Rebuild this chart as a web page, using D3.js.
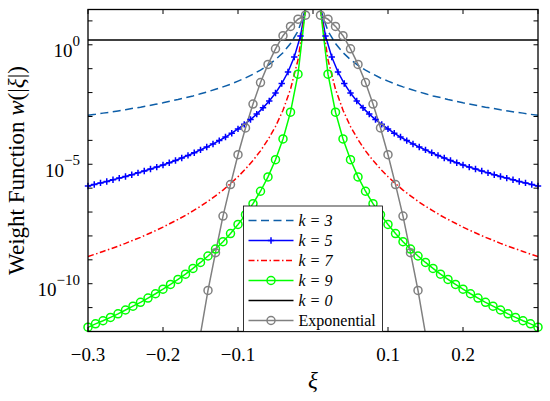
<!DOCTYPE html>
<html>
<head>
<meta charset="utf-8">
<script src="https://cdn.jsdelivr.net/npm/d3@7/dist/d3.min.js"></script>
<style>
body { margin: 0; background: #fff; }
svg { display: block; font-family: 'Liberation Serif', 'Times New Roman', serif; }
</style>
</head>
<body>
<svg id="chart" width="550" height="401"></svg>
<script>
var width = 550;
var height = 401;
var margin = { top: 9.5, right: 12, bottom: 69.5, left: 88 };

// |xi| grid (mirrored to negative side)
var xiGrid = [0.01, 0.02, 0.03, 0.04, 0.05, 0.06, 0.07, 0.08, 0.09, 0.10,
	0.11, 0.12, 0.13, 0.14, 0.15, 0.16, 0.17, 0.18, 0.19, 0.20,
	0.21, 0.22, 0.23, 0.24, 0.25, 0.26, 0.27, 0.28, 0.29, 0.30];
var xiGridK5 = [0.00833, 0.01667, 0.025, 0.03333, 0.04167, 0.05, 0.05833, 0.06667, 0.075, 0.08333,
	0.09167, 0.1, 0.10833, 0.11667, 0.125, 0.13333, 0.14167, 0.15, 0.15833, 0.16667,
	0.175, 0.18333, 0.19167, 0.2, 0.20833, 0.21667, 0.225, 0.23333, 0.24167, 0.25,
	0.25833, 0.26667, 0.275, 0.28333, 0.29167, 0.3];

// log10 of w(|xi|)
var logK3 = [1.48, 0.57, 0.05, -0.33, -0.62, -0.86, -1.06, -1.23, -1.39, -1.52,
	-1.65, -1.76, -1.86, -1.96, -2.05, -2.14, -2.21, -2.29, -2.36, -2.43,
	-2.49, -2.55, -2.61, -2.66, -2.72, -2.77, -2.82, -2.86, -2.91, -2.95];
var logK5 = [1.87, 0.37, -0.51, -1.14, -1.62, -2.02, -2.35, -2.64, -2.90, -3.13,
	-3.33, -3.52, -3.70, -3.86, -4.01, -4.15, -4.28, -4.40, -4.52, -4.63,
	-4.74, -4.84, -4.94, -5.03, -5.12, -5.20, -5.28, -5.36, -5.44, -5.51,
	-5.58, -5.65, -5.72, -5.78, -5.85, -5.91];
var logK7 = [1.48, -0.63, -1.86, -2.74, -3.42, -3.97, -4.44, -4.84, -5.20, -5.52,
	-5.81, -6.08, -6.32, -6.55, -6.76, -6.95, -7.14, -7.31, -7.47, -7.63,
	-7.78, -7.92, -8.06, -8.18, -8.31, -8.43, -8.54, -8.65, -8.76, -8.86];
var logK9 = [1.48, -1.23, -2.82, -3.94, -4.81, -5.53, -6.13, -6.65, -7.11, -7.52,
	-7.90, -8.24, -8.55, -8.84, -9.11, -9.36, -9.60, -9.82, -10.03, -10.23,
	-10.42, -10.60, -10.78, -10.94, -11.10, -11.26, -11.41, -11.55, -11.68, -11.82];
var logExp = [1.24, 1.07, 0.77, 0.38, -0.17, -0.82, -1.58, -2.48, -3.48, -4.60,
	-5.85, -7.17, -8.70, -10.28, -12.1, -14.0];
var k0Value = 1.6;

var xTicks = [-0.3, -0.2, -0.1, 0, 0.1, 0.2];
var xTickLabels = ['\u22120.3', '\u22120.2', '\u22120.1', '', '0.1', '0.2'];
var yTickExps = [1, 0, -1, -2, -3, -4, -5, -6, -7, -8, -9, -10, -11, -12];
var yLabelExps = [0, -5, -10];

var legendNames = ['k = 3', 'k = 5', 'k = 7', 'k = 9', 'k = 0', 'Exponential'];

var series = [
	{ grid: xiGrid, logs: logK3, color: '#0d5ea8', dash: '8,4.5', marker: null },
	{ grid: xiGridK5, logs: logK5, color: '#0000ff', dash: null, marker: 'plus' },
	{ grid: xiGrid, logs: logK7, color: '#ff0000', dash: '6,2.5,1.5,2.5', marker: null },
	{ grid: xiGrid, logs: logK9, color: '#00ff00', dash: null, marker: 'circle' },
	{ grid: null, logs: null, color: '#000000', dash: null, marker: null },
	{ grid: xiGrid, logs: logExp, color: '#808080', dash: null, marker: 'circle' }
];

var svg = d3.select('#chart');
var x0 = margin.left, x1 = width - margin.right;
var y0 = margin.top, y1 = height - margin.bottom;

var x = d3.scaleLinear().domain([-0.3, 0.3]).range([x0, x1]);
var y = d3.scaleLog().domain([1e-12, 30]).range([y1, y0]);

svg.append('defs').append('clipPath').attr('id', 'plotclip')
.append('rect').attr('x', x0).attr('y', y0).attr('width', x1 - x0).attr('height', y1 - y0);

function sides(s) {
	var right = s.logs.map(function(v, i) { return { xi: s.grid[i], w: Math.pow(10, v) }; });
	var left = right.map(function(p) { return { xi: -p.xi, w: p.w }; }).reverse();
	return [left, right];
}

var line = d3.line().x(function(d) { return x(d.xi); }).y(function(d) { return y(d.w); });

var plot = svg.append('g');
var lines = plot.append('g').attr('clip-path', 'url(#plotclip)');

series.forEach(function(s) {
	if (!s.grid) {
		lines.append('line')
		.attr('x1', x(-0.3)).attr('x2', x(0.3))
		.attr('y1', y(k0Value)).attr('y2', y(k0Value))
		.style('stroke', s.color).style('stroke-width', 1.5);
		return;
	}
	var parts = sides(s);
	parts.forEach(function(half) {
		lines.append('path')
		.attr('d', line(half))
		.style('fill', 'none')
		.style('stroke', s.color)
		.style('stroke-width', 1.5)
		.style('stroke-dasharray', s.dash);
	});
	if (s.marker) {
		var pts = parts[0].concat(parts[1]).filter(function(p) {
			return p.w >= 1e-12 * 0.999 && p.w <= 30 * 1.001;
		});
		var mk = plot.append('g');
		if (s.marker === 'circle') {
			mk.selectAll('circle').data(pts).enter().append('circle')
			.attr('cx', function(d) { return x(d.xi); })
			.attr('cy', function(d) { return y(d.w); })
			.attr('r', 4)
			.style('fill', 'none').style('stroke', s.color).style('stroke-width', 1.5);
		} else {
			mk.selectAll('path').data(pts).enter().append('path')
			.attr('d', function(d) {
				var cx = x(d.xi), cy = y(d.w);
				return 'M' + (cx - 3.2) + ',' + cy + 'H' + (cx + 3.2) + 'M' + cx + ',' + (cy - 3.2) + 'V' + (cy + 3.2);
			})
			.style('fill', 'none').style('stroke', s.color).style('stroke-width', 1.5);
		}
	}
});

// axes frame and ticks (inward, on all four sides)
var axes = svg.append('g').style('stroke', '#000').style('stroke-width', 1);
xTicks.concat([0.3]).forEach(function(t) {
	axes.append('line').attr('x1', x(t)).attr('x2', x(t)).attr('y1', y1).attr('y2', y1 - 4.5);
	axes.append('line').attr('x1', x(t)).attr('x2', x(t)).attr('y1', y0).attr('y2', y0 + 4.5);
});
yTickExps.forEach(function(e) {
	var yy = y(Math.pow(10, e));
	axes.append('line').attr('x1', x0).attr('x2', x0 + 4.5).attr('y1', yy).attr('y2', yy);
	axes.append('line').attr('x1', x1).attr('x2', x1 - 4.5).attr('y1', yy).attr('y2', yy);
});
axes.append('rect').attr('x', x0).attr('y', y0).attr('width', x1 - x0).attr('height', y1 - y0)
.style('fill', 'none').style('stroke-width', 1.3);

// tick labels
svg.append('g').selectAll('text').data(xTicks).enter().append('text')
.attr('x', function(d) { return x(d); })
.attr('y', 361)
.attr('text-anchor', 'middle')
.style('font-size', '19px')
.text(function(d, i) { return xTickLabels[i]; });

var yl = svg.append('g').selectAll('text').data(yLabelExps).enter().append('text')
.attr('x', 80)
.attr('y', function(d) { return y(Math.pow(10, d)) + 12.5; })
.attr('text-anchor', 'end')
.style('font-size', '19px');
yl.append('tspan').text('10');
yl.append('tspan').attr('dy', -11.5).style('font-size', '15px')
.text(function(d) { return String(d).replace('-', '\u2212'); });

// axis labels
svg.append('text')
.attr('x', (x0 + x1) / 2).attr('y', 388)
.attr('text-anchor', 'middle')
.style('font-size', '23px').style('font-style', 'italic')
.text('\u03BE');

var ylab = svg.append('text')
.attr('transform', 'translate(24,' + ((y0 + y1) / 2) + ') rotate(-90)')
.attr('text-anchor', 'middle')
.style('font-size', '23px');
ylab.append('tspan').text('Weight Function ');
ylab.append('tspan').style('font-style', 'italic').text('w');
ylab.append('tspan').text('(|');
ylab.append('tspan').style('font-style', 'italic').text('\u03BE');
ylab.append('tspan').text('|)');

// legend
var lg = svg.append('g');
lg.append('rect').attr('x', 243.5).attr('y', 206).attr('width', 139).attr('height', y1 - 206)
.style('fill', '#fff').style('stroke', '#000').style('stroke-width', 0.8);

legendNames.forEach(function(name, i) {
	var s = series[i];
	var ry = 220.5 + i * 20;
	lg.append('line').attr('x1', 248.5).attr('x2', 293.5).attr('y1', ry).attr('y2', ry)
	.style('stroke', s.color).style('stroke-width', 1.5).style('stroke-dasharray', s.dash);
	if (s.marker === 'circle') {
		lg.append('circle').attr('cx', 271).attr('cy', ry).attr('r', 4)
		.style('fill', 'none').style('stroke', s.color).style('stroke-width', 1.5);
	} else if (s.marker === 'plus') {
		lg.append('path').attr('d', 'M267.8,' + ry + 'H274.2M271,' + (ry - 3.2) + 'V' + (ry + 3.2))
		.style('stroke', s.color).style('stroke-width', 1.5);
	}
	lg.append('text').attr('x', 298.5).attr('y', ry + 5.5)
	.style('font-size', '16px')
	.style('font-style', name === 'Exponential' ? 'normal' : 'italic')
	.text(name);
});
</script>
</body>
</html>
